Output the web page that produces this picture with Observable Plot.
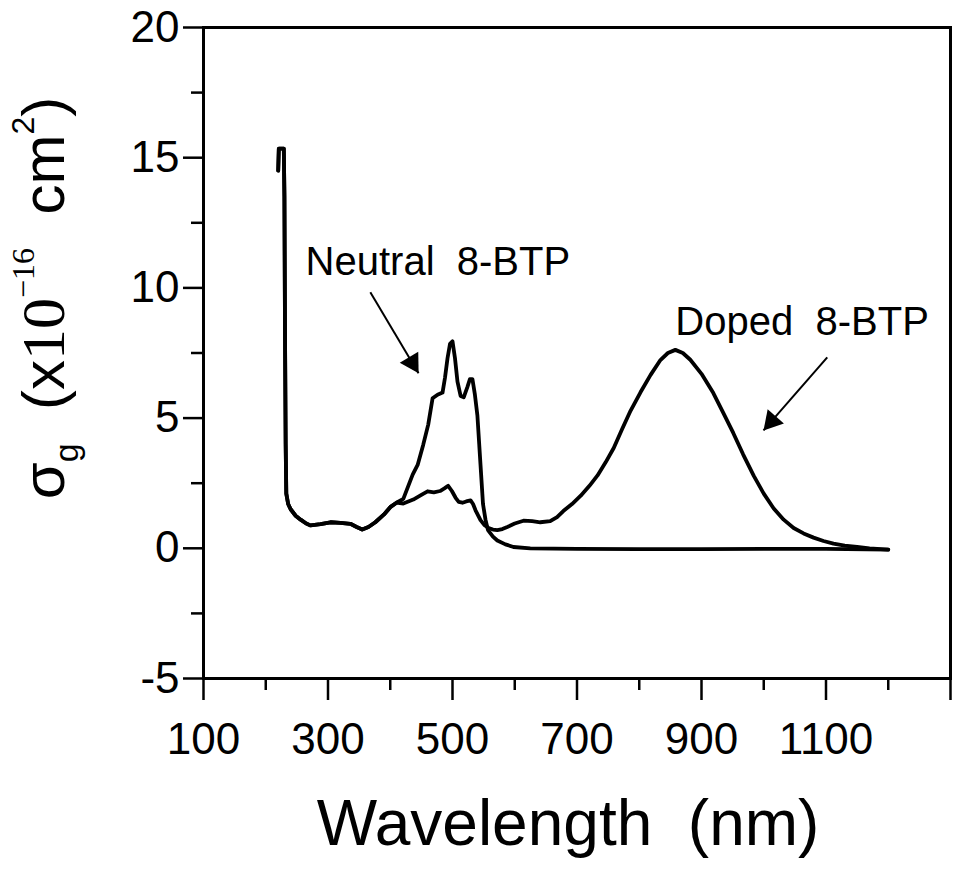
<!DOCTYPE html>
<html><head><meta charset="utf-8">
<script src="https://cdn.jsdelivr.net/npm/d3@7"></script>
<script src="https://cdn.jsdelivr.net/npm/@observablehq/plot@0.6"></script>
<style>body{margin:0;background:#fff} svg{display:block}</style>
</head><body><div id="chart"></div>
<script>
// Shared UV part (both spectra coincide below ~410 nm)
const sharedWl  = [220,221,229,230,231,232,233,236,240,248,256,265,272,288,304,320,336,346,355,365,376,390,400,410];
const sharedVal = [14.5,15.35,15.35,13.5,8.0,4.0,2.1,1.7,1.5,1.25,1.1,0.95,0.88,0.93,1.0,0.98,0.94,0.82,0.72,0.82,1.0,1.3,1.58,1.75];

// Neutral 8-BTP
const neutralWl  = [421,436,444,453,461,468,476,484,488,492,496,500,504,508,513,518,524,528,532,536,540,545,549,553,557,565,572,585,598,625,700,800,900,1000,1100,1200];
const neutralVal = [1.9,2.83,3.2,3.98,4.75,5.76,5.9,5.98,6.56,7.3,7.85,7.95,7.3,6.4,5.85,5.8,6.2,6.5,6.5,5.9,5.1,3.2,1.7,1.1,0.7,0.45,0.3,0.15,0.05,0.0,-0.02,-0.03,-0.03,-0.02,-0.02,-0.05];

// Doped 8-BTP
const dopedWl  = [421,437,450,460,470,480,487,493,499,505,510,516,522,529,533,537,545,551,558,565,572,580,588,600,614,628,641,657,668,678,692,706,720,733,746,759,772,786,802,818,834,846,858,870,882,900,919,935,951,967,984,1000,1016,1032,1048,1064,1080,1096,1112,1130,1150,1170,1200];
const dopedVal = [1.72,1.87,2.05,2.19,2.15,2.2,2.3,2.4,2.2,1.94,1.78,1.75,1.8,1.84,1.7,1.46,1.08,0.9,0.78,0.72,0.7,0.74,0.82,0.95,1.06,1.04,1.0,1.04,1.2,1.43,1.7,2.02,2.4,2.8,3.3,3.85,4.55,5.28,5.99,6.65,7.23,7.5,7.62,7.5,7.24,6.7,5.96,5.2,4.43,3.6,2.78,2.1,1.53,1.1,0.78,0.57,0.41,0.28,0.18,0.1,0.05,0.0,-0.05];

// Ticks
const xMajorTicks = [100,300,500,700,900,1100,1300];
const xTickLabels = ["100","300","500","700","900","1100",""];
const xMinorTicks = [200,400,600,800,1000,1200];
const yMajorTicks = [-5,0,5,10,15,20];
const yTickLabels = ["-5","0","5","10","15","20"];
const yMinorTicks = [-2.5,2.5,7.5,12.5,17.5];

// Annotations
const annText = ["Neutral  8-BTP","Doped  8-BTP"];
const annX = [264, 858];
const annY = [10.98, 8.68];
const arrowX1 = [368, 1102];
const arrowY1 = [9.83, 7.33];
const arrowX2 = [445.4, 999.6];
const arrowY2 = [6.72, 4.53];

const xTitle = "Wavelength  (nm)";

const toRows = (ws, vs) => ws.map((w, i) => ({w, v: vs[i]}));
const neutral = toRows(sharedWl.concat(neutralWl), sharedVal.concat(neutralVal));
const doped = toRows(sharedWl.concat(dopedWl), sharedVal.concat(dopedVal));
const ann = annText.map((t, i) => ({t, x: annX[i], y: annY[i]}));
const arrows = arrowX1.map((x1, i) => ({x1, y1: arrowY1[i], x2: arrowX2[i], y2: arrowY2[i]}));
const xLab = new Map(xMajorTicks.map((t, i) => [t, xTickLabels[i]]));
const yLab = new Map(yMajorTicks.map((t, i) => [t, yTickLabels[i]]));

const SANS = "'Liberation Sans', Arial, Helvetica, sans-serif";
const SERIF = "'Liberation Serif', 'Times New Roman', serif";

const svg = Plot.plot({
  width: 956, height: 877,
  marginLeft: 203, marginRight: 6, marginTop: 27, marginBottom: 199,
  style: {fontFamily: SANS, background: "white", color: "black"},
  x: {domain: [100, 1300]},
  y: {domain: [-5, 20]},
  marks: [
    Plot.frame({stroke: "black", strokeWidth: 3}),
    Plot.axisX(xMajorTicks, {tickSize: 22, tickPadding: 22, tickFormat: d => xLab.get(d), fontSize: 44, strokeWidth: 2.5, label: null}),
    Plot.axisX(xMinorTicks, {tickSize: 12, tickFormat: () => "", strokeWidth: 2.5, label: null}),
    Plot.axisY(yMajorTicks, {tickSize: 20, tickPadding: 4, tickFormat: d => yLab.get(d), fontSize: 44, strokeWidth: 2.5, label: null}),
    Plot.axisY(yMinorTicks, {tickSize: 12, tickFormat: () => "", strokeWidth: 2.5, label: null}),
    Plot.line(neutral, {x: "w", y: "v", stroke: "black", strokeWidth: 3.8, strokeLinejoin: "round"}),
    Plot.line(doped, {x: "w", y: "v", stroke: "black", strokeWidth: 3.8, strokeLinejoin: "round"}),
    Plot.link(arrows, {x1: "x1", y1: "y1", x2: "x2", y2: "y2", stroke: "black", strokeWidth: 2}),
    Plot.dot(arrows.slice(0, 1), {x: "x2", y: "y2", symbol: "triangle", r: 8, fill: "black", stroke: "none", rotate: 149, dx: -6.3, dy: -10.7}),
    Plot.dot(arrows.slice(1, 2), {x: "x2", y: "y2", symbol: "triangle", r: 8, fill: "black", stroke: "none", rotate: 221, dx: 8.2, dy: -9.3}),
    Plot.text(ann, {x: "x", y: "y", text: "t", textAnchor: "start", fontSize: 40, fill: "black", style: "white-space:pre"})
  ]
});

const s = d3.select(svg);
s.selectAll("text").style("white-space", "pre");

// x-axis title
s.append("text")
  .attr("x", 568).attr("y", 845)
  .attr("text-anchor", "middle")
  .style("font-family", SANS).style("font-size", "64px").style("white-space", "pre")
  .attr("fill", "black")
  .text(xTitle);

// y-axis title: σg (x10^-16 cm^2)
const yl = s.append("text")
  .attr("transform", "translate(64,298) rotate(-90)")
  .attr("text-anchor", "middle")
  .style("font-family", SANS).style("font-size", "60px").style("white-space", "pre")
  .attr("fill", "black");
yl.append("tspan").text("σ");
yl.append("tspan").attr("font-size", 34).attr("dy", 14).text("g");
yl.append("tspan").attr("dy", -14).text("  (x");
yl.append("tspan").style("font-family", SERIF).attr("font-size", 62).text("10");
yl.append("tspan").style("font-family", SERIF).attr("font-size", 32).attr("dy", -30).text("\u221216");
yl.append("tspan").attr("dy", 30).text("  cm");
yl.append("tspan").attr("font-size", 32).attr("dy", -30).text("2");
yl.append("tspan").attr("dy", 30).text(")");

document.getElementById("chart").appendChild(svg);
</script>
</body></html>
